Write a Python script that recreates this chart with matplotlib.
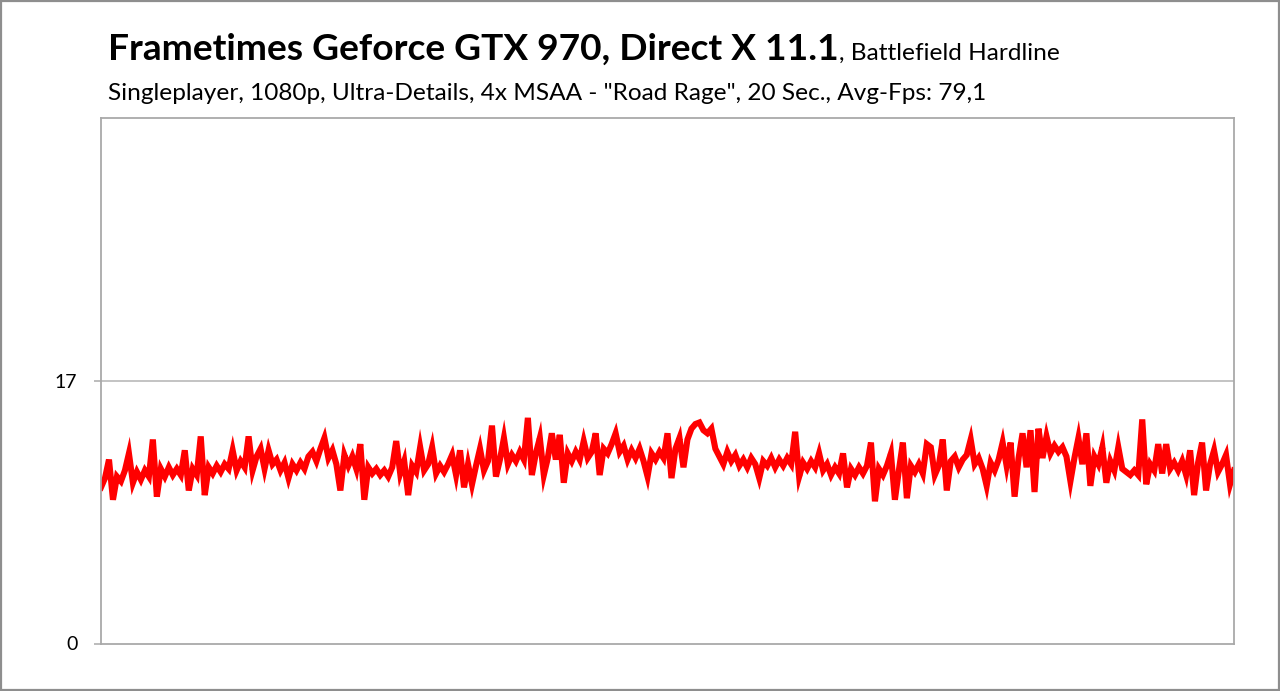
import matplotlib
matplotlib.use("Agg")
import matplotlib.pyplot as plt
from matplotlib.patches import Rectangle

plt.rcParams['font.family'] = ['Lato', 'DejaVu Sans']

# Frametimes in ms (about one value per 4 px)
frametimes_ms = [
    10.1, 10.7, 11.9, 9.3, 10.8, 10.5, 11.2, 12.3, 10.4, 11.1,
    10.6, 11.2, 10.8, 13.2, 9.5, 11.3, 10.8, 11.4, 10.9, 11.3,
    10.9, 12.5, 9.9, 11.3, 10.9, 13.4, 9.6, 11.4, 11.0, 11.5,
    11.1, 11.6, 11.3, 12.5, 11.2, 11.8, 11.4, 13.4, 11.2, 12.1,
    12.6, 11.3, 12.5, 11.6, 11.9, 11.2, 11.7, 10.7, 11.6, 11.2,
    11.7, 11.3, 12.1, 12.4, 11.8, 12.6, 13.3, 12.0, 12.5, 11.6,
    9.9, 12.2, 11.5, 12.1, 11.3, 12.9, 9.3, 11.4, 11.0, 11.3,
    10.9, 11.2, 10.8, 11.4, 13.1, 11.0, 11.8, 9.6, 11.5, 11.1,
    12.7, 11.2, 11.6, 12.7, 11.0, 11.5, 11.1, 11.6, 12.2, 10.9,
    12.5, 10.1, 11.6, 10.3, 11.5, 12.6, 11.2, 11.8, 14.1, 10.8,
    11.9, 13.3, 11.6, 12.2, 11.8, 12.4, 11.9, 14.6, 10.9, 12.3,
    13.3, 10.9, 12.0, 13.6, 11.9, 13.5, 10.4, 12.3, 11.8, 12.4,
    11.9, 13.1, 12.0, 12.4, 13.6, 10.9, 12.6, 12.3, 12.9, 13.6,
    12.4, 12.8, 11.9, 12.5, 12.0, 12.6, 11.8, 10.8, 12.3, 11.9,
    12.4, 12.0, 13.6, 10.7, 12.6, 13.3, 11.4, 13.2, 13.9, 14.2,
    14.3, 13.8, 13.6, 13.9, 12.6, 12.1, 11.6, 12.4, 11.8, 12.2,
    11.5, 11.9, 11.4, 12.0, 11.6, 10.7, 11.8, 11.5, 12.0, 11.4,
    11.9, 11.5, 12.0, 11.6, 13.7, 10.8, 11.7, 11.3, 11.8, 11.4,
    12.3, 11.2, 11.6, 10.9, 11.4, 11.0, 12.3, 10.1, 11.3, 10.9,
    11.4, 11.0, 11.5, 13.0, 9.2, 11.3, 10.9, 11.5, 12.3, 9.3,
    11.2, 13.0, 9.4, 11.5, 11.1, 11.6, 11.0, 12.9, 12.7, 10.9,
    11.5, 13.2, 9.9, 11.8, 12.1, 11.4, 11.9, 12.2, 13.2, 11.6,
    12.0, 11.3, 10.2, 11.7, 11.2, 11.9, 13.0, 11.5, 13.0, 9.5,
    12.0, 13.6, 11.4, 13.8, 9.8, 13.9, 12.0, 13.4, 12.3, 12.8,
    12.4, 12.7, 12.1, 10.5, 12.0, 13.3, 11.6, 13.6, 10.2, 12.1,
    11.6, 12.7, 10.4, 11.8, 11.2, 12.7, 11.3, 11.1, 10.9, 11.2,
    10.9, 14.5, 10.3, 11.6, 11.2, 12.9, 11.0, 12.9, 11.3, 11.7,
    11.2, 11.8, 10.9, 12.5, 9.6, 11.7, 13.0, 9.9, 11.6, 12.5,
    11.1, 11.6, 12.2, 10.3, 11.2,
]
frame_idx = list(range(len(frametimes_ms)))

y_ticks = [0, 17]
y_max = 34

title_main = "Frametimes Geforce GTX 970, Direct X 11.1"
title_game = ", Battlefield Hardline"
subtitle = 'Singleplayer, 1080p, Ultra-Details, 4x MSAA - "Road Rage", 20 Sec., Avg-Fps: 79,1'

W, H = 1280, 691
fig = plt.figure(figsize=(W / 100, H / 100), dpi=100)
ax = fig.add_axes([101 / W, 1 - 643.5 / H, (1234 - 101) / W, (643.5 - 118) / H])

ax.plot(frame_idx, frametimes_ms, color='#FF0000', lw=4.4, solid_joinstyle='miter')
ax.set_xlim(0, len(frametimes_ms) - 1)
ax.set_ylim(0, y_max)
ax.set_yticks(y_ticks)
ax.set_xticks([])
ax.axhline(17, color='#B3B3B3', lw=1.1, zorder=0)

grey = '#A9A9A9'
for s in ax.spines.values():
    s.set_color(grey)
    s.set_linewidth(1.3)
ax.tick_params(axis='y', length=5, width=1.1, color=grey, pad=12,
               labelsize=14, labelcolor='#000000')

# outer frame of the picture
fig.patches.append(Rectangle((0.0008, 0.0015), 0.9984, 0.997, transform=fig.transFigure,
                             fill=False, edgecolor='#8E8E8E', lw=1.6))

t1 = fig.text(108 / W, 1 - 60 / H, title_main, fontsize=22, fontweight='bold',
              va='baseline', ha='left', color='#000000')
t3 = fig.text(108 / W, 1 - 100 / H, subtitle, fontsize=15, va='baseline', ha='left',
              color='#000000')

fig.canvas.draw()
r = fig.canvas.get_renderer()


def fit(t, target_px):
    w = t.get_window_extent(r).width
    t.set_fontsize(t.get_fontsize() * target_px / w)


fit(t1, 838 - 108)
fit(t3, 989 - 108)
fig.canvas.draw()
x_end = t1.get_window_extent(r).x1
t2 = fig.text(x_end / W, 1 - 60 / H, title_game, fontsize=15, va='baseline',
              ha='left', color='#000000')
fig.canvas.draw()
fit(t2, 1060 - x_end)

fig.savefig("out.png", dpi=100)
